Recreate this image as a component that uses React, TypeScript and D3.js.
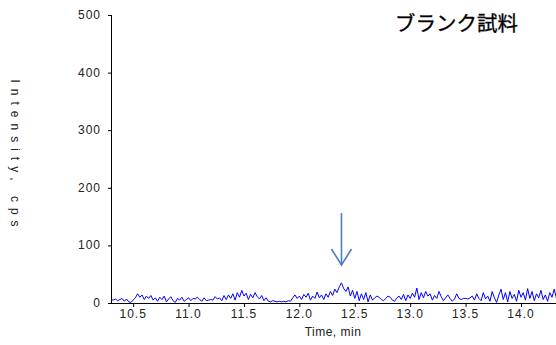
import * as d3 from "d3";

const W = 556;
const H = 345;

const title = "ブランク試料";
const xLabel = "Time, min";
const yLabel = "Intensity, cps";

const xTicks = [10.5, 11.0, 11.5, 12.0, 12.5, 13.0, 13.5, 14.0];
const yTicks = [0, 100, 200, 300, 400, 500];

// sampling of the chromatogram
const T0 = 10.3;
const DT = 0.02;

// intensity (cps), one per sample
const intensity = [
  6, 5, 7, 4, 6, 8, 3, 7, 2, 1,
  5, 9, 16, 10, 14, 6, 12, 8, 13, 5,
  9, 3, 10, 6, 12, 2, 7, 11, 4, 1,
  8, 5, 10, 3, 6, 9, 4, 8, 7, 10,
  6, 3, 9, 4, 5, 6, 5, 11, 7, 9,
  4, 13, 6, 14, 8, 16, 5, 18, 10, 22,
  12, 17, 6, 15, 9, 18, 11, 7, 13, 4,
  9, 3, 2, 4, 3, 2, 3, 2, 3, 2,
  4, 3, 9, 14, 8, 12, 6, 15, 10, 17,
  5, 12, 8, 19, 9, 14, 6, 16, 10, 20,
  13, 24, 18, 28, 35, 25, 20, 28, 12, 22,
  8, 20, 4, 16, 6, 18, 2, 14, 5, 9,
  12, 10, 6, 4, 8, 12, 10, 5, 3, 9,
  12, 6, 15, 4, 14, 8, 17, 10, 26, 6,
  18, 9, 20, 12, 16, 5, 13, 8, 20, 11,
  4, 9, 14, 8, 3, 7, 16, 8, 6, 8,
  8, 7, 9, 12, 5, 16, 8, 4, 18, 7,
  12, 3, 20, 9, 1, 14, 24, 6, 18, 2,
  20, 8, 15, 3, 22, 10, 18, 5, 25, 8,
  20, 4, 16, 9, 22, 6, 14, 3, 18, 10,
  24, 8,
];

// arrow marking the expected peak
const arrowTime = 12.38;
const arrowFrom = 156;
const arrowTo = 66;

const PLOT_LEFT = 111;
const PLOT_TOP = 15;
const PLOT_BOTTOM = 303;

export default function App() {
  const x = d3.scaleLinear().domain([10.3, 14.316]).range([PLOT_LEFT, W]);
  const y = d3.scaleLinear().domain([0, 500]).range([PLOT_BOTTOM, PLOT_TOP]);

  const pts: [number, number][] = intensity.map((v, i) => [T0 + i * DT, v]);
  const line = d3
    .line<[number, number]>()
    .x((d) => x(d[0]))
    .y((d) => y(d[1]));

  const ax = x(arrowTime);
  const ay1 = y(arrowFrom);
  const ay2 = y(arrowTo);

  const tickFont = {
    fontFamily: "Liberation Sans, Arial, sans-serif",
    fontSize: 12,
    letterSpacing: 1,
    fill: "#222",
  };

  return (
    <svg
      width={W}
      height={H}
      style={{ position: "absolute", left: 0, top: 0, background: "#fff" }}
    >
      <defs>
        <clipPath id="plot">
          <rect x={PLOT_LEFT} y={PLOT_TOP - 2} width={W - PLOT_LEFT} height={PLOT_BOTTOM - PLOT_TOP + 2} />
        </clipPath>
      </defs>

      <path
        d={line(pts) ?? ""}
        fill="none"
        stroke="#0000ff"
        strokeWidth={1}
        clipPath="url(#plot)"
      />

      {/* axes */}
      <line x1={PLOT_LEFT + 0.5} x2={PLOT_LEFT + 0.5} y1={PLOT_TOP} y2={PLOT_BOTTOM} stroke="#000" />
      <line x1={PLOT_LEFT} x2={W} y1={PLOT_BOTTOM + 0.5} y2={PLOT_BOTTOM + 0.5} stroke="#000" />

      {yTicks.map((t) => (
        <g key={t}>
          <line x1={PLOT_LEFT - 3} x2={PLOT_LEFT} y1={y(t) + 0.5} y2={y(t) + 0.5} stroke="#000" />
          <text x={101} y={y(t)} textAnchor="end" dominantBaseline="central" {...tickFont}>
            {t}
          </text>
        </g>
      ))}

      {xTicks.map((t) => (
        <g key={t}>
          <line x1={x(t) + 0.5} x2={x(t) + 0.5} y1={PLOT_BOTTOM} y2={PLOT_BOTTOM + 4} stroke="#000" />
          <text x={x(t)} y={314} textAnchor="middle" dominantBaseline="central" {...tickFont}>
            {t.toFixed(1)}
          </text>
        </g>
      ))}

      <text x={333} y={332} textAnchor="middle" dominantBaseline="central" {...tickFont} letterSpacing={0.5}>
        {xLabel}
      </text>

      <text
        transform={`translate(15, 156) rotate(90)`}
        textAnchor="middle"
        dominantBaseline="central"
        {...tickFont}
        fontSize={12}
        letterSpacing={6}
      >
        {yLabel}
      </text>

      {/* arrow */}
      <g stroke="#4a7fc1" strokeWidth={1.6} fill="none">
        <line x1={ax} x2={ax} y1={ay1} y2={ay2} />
        <polyline points={`${ax - 10},${ay2 - 16} ${ax},${ay2} ${ax + 10},${ay2 - 16}`} />
      </g>

      <text
        x={395}
        y={31}
        fontFamily="Noto Sans CJK JP, sans-serif"
        fontSize={20.5}
        fill="#000"
        stroke="#000"
        strokeWidth={0.3}
      >
        {title}
      </text>
    </svg>
  );
}
